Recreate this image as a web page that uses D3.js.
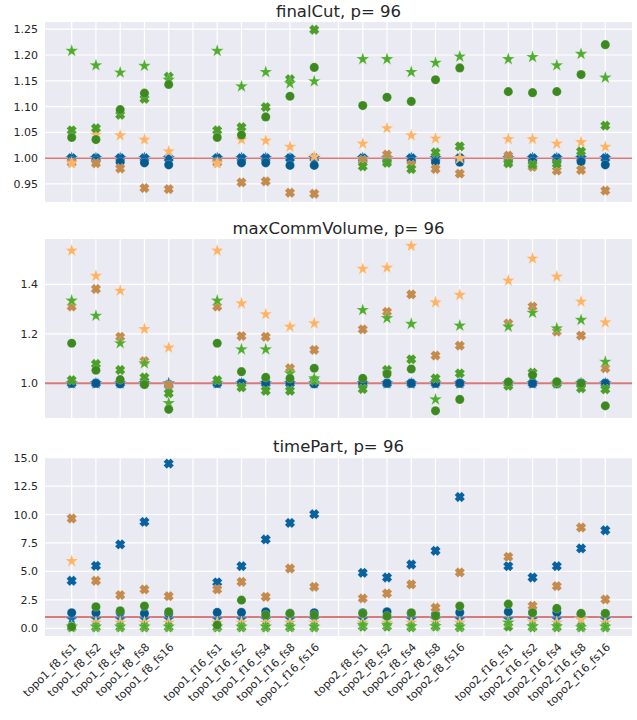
<!DOCTYPE html>
<html>
<head>
<meta charset="utf-8">
<script src="https://cdn.jsdelivr.net/npm/d3@7"></script>
<style>
  body { margin: 0; background: #fff; }
  text { font-family: "DejaVu Sans", sans-serif; fill: #262626; }
</style>
</head>
<body>
<script>
// x categories, "" marks the empty gap slots between groups
const categories = [
  "topo1_f8_fs1", "topo1_f8_fs2", "topo1_f8_fs4", "topo1_f8_fs8", "topo1_f8_fs16", "",
  "topo1_f16_fs1", "topo1_f16_fs2", "topo1_f16_fs4", "topo1_f16_fs8", "topo1_f16_fs16", "",
  "topo2_f8_fs1", "topo2_f8_fs2", "topo2_f8_fs4", "topo2_f8_fs8", "topo2_f8_fs16", "",
  "topo2_f16_fs1", "topo2_f16_fs2", "topo2_f16_fs4", "topo2_f16_fs8", "topo2_f16_fs16"
];

// finalCut values (20 real categories each)
const cutBlueStar   = [1,1,1,1,1, 1,1,1,1,1, 1,1,1,1,1, 1,1,1,1,1];
const cutBlueX      = [1,1,1,1,1, 1,1,1,1,1, 1,1,1,1,1, 1,1,1,1,1];
const cutBlueCircle = [0.994,0.995,0.992,0.991,0.987, 0.993,0.991,0.991,0.986,0.986, 0.993,0.993,0.993,0.992,0.992, 0.993,0.993,0.993,0.993,0.987];
const cutBrownX     = [0.991,0.990,0.980,0.942,0.940, 0.991,0.953,0.955,0.933,0.931, 0.996,1.007,0.987,0.979,0.970, 1.005,0.983,0.976,0.977,0.937];
const cutOrangeStar = [0.990,1.045,1.044,1.036,1.013, 0.990,1.036,1.034,1.022,1.003, 1.028,1.058,1.044,1.038,1.000, 1.037,1.037,1.028,1.031,1.022];
const cutGreenX     = [1.054,1.058,1.084,1.115,1.158, 1.054,1.060,1.099,1.153,1.249, 0.984,0.991,0.979,1.011,1.023, 0.990,0.987,0.989,1.013,1.063];
const cutGreenStar  = [1.208,1.180,1.166,1.179,1.152, 1.208,1.139,1.167,1.145,1.149, 1.192,1.192,1.167,1.185,1.197, 1.192,1.196,1.180,1.202,1.156];
const cutGreenCircle= [1.040,1.036,1.094,1.126,1.143, 1.040,1.045,1.080,1.120,1.176, 1.102,1.118,1.110,1.152,1.175, 1.129,1.127,1.129,1.162,1.220];

// maxCommVolume values
const volBlueStar   = [1,1,1,1,1, 1,1,1,1,1, 1,1,1,1,1, 1,1,1,1,1];
const volBlueX      = [1,1,1,1,0.995, 1,1,1,1,1, 1,1,1,1,1, 1,1,1,1,1];
const volBlueCircle = [1.0,1.0,0.998,1.0,0.99, 1.0,1.0,1.0,1.0,0.998, 1.0,1.0,1.0,1.0,1.0, 1.0,1.0,0.998,0.995,1.0];
const volBrownX     = [1.310,1.381,1.188,1.090,0.993, 1.310,1.191,1.188,1.061,1.135, 1.218,1.289,1.359,1.112,1.152, 1.242,1.310,1.209,1.193,1.061];
const volOrangeStar = [1.536,1.434,1.374,1.219,1.144, 1.536,1.323,1.279,1.229,1.242, 1.462,1.467,1.555,1.327,1.357, 1.415,1.504,1.431,1.330,1.246];
const volGreenX     = [1.013,1.078,1.054,1.024,0.960, 1.013,0.984,0.970,0.970,1.012, 0.977,1.054,1.097,1.020,1.040, 0.990,1.043,1.000,0.980,0.976];
const volGreenStar  = [1.334,1.273,1.162,1.081,0.920, 1.334,1.137,1.137,1.040,1.020, 1.296,1.263,1.240,0.935,1.233, 1.229,1.285,1.222,1.256,1.087];
const volGreenCircle= [1.162,1.053,1.015,0.995,0.895, 1.162,1.047,1.024,1.020,1.061, 1.020,1.038,1.058,0.889,0.935, 1.005,1.034,1.006,1.000,0.909];

// timePart values
const timeBlueStar   = [0.8,0.8,0.8,0.8,0.8, 0.8,0.8,0.8,0.8,0.8, 0.8,0.8,0.8,0.8,0.8, 0.8,0.8,0.8,0.8,0.8];
const timeBlueX      = [4.18,5.49,7.37,9.35,14.47, 4.04,5.46,7.81,9.26,10.03, 4.88,4.47,5.61,6.81,11.54, 5.46,4.47,5.46,7.02,8.62];
const timeBlueCircle = [1.37,1.37,1.40,1.31,1.31, 1.40,1.40,1.46,1.31,1.37, 1.37,1.46,1.30,1.23,1.40, 1.46,1.40,1.40,1.25,1.30];
const timeBrownX     = [9.65,4.18,2.92,3.42,2.83, 3.42,4.09,2.77,5.26,3.65, 2.63,3.07,3.86,1.81,4.91, 6.28,1.98,3.71,8.86,2.54];
const timeOrangeStar = [5.9,0.5,0.5,0.5,0.5, 0.5,0.5,0.5,0.5,0.5, 0.5,0.5,0.5,0.5,0.5, 0.5,0.6,0.5,0.8,0.5];
const timeGreenX     = [0.1,0.1,0.1,0.1,0.1, 0.1,0.1,0.1,0.1,0.1, 0.15,0.15,0.1,0.15,0.1, 0.15,0.1,0.1,0.1,0.1];
const timeGreenStar  = [0.15,0.15,0.15,0.15,0.15, 0.15,0.15,0.15,0.15,0.15, 0.3,0.3,0.2,0.2,0.15, 0.5,0.2,0.2,0.1,0.15];
const timeGreenCircle= [0.14,1.90,1.54,1.96,1.46, 0.29,2.48,1.17,1.31,1.17, 1.31,1.08,1.37,1.10,1.96, 2.13,1.37,1.75,1.31,1.31];

// series styles, in draw order
const seriesStyle = [
  { key: "blueStar",    shape: "star",   color: "#1470b0" },
  { key: "blueX",       shape: "x",      color: "#07629f" },
  { key: "blueCircle",  shape: "circle", color: "#045a8d" },
  { key: "brownX",      shape: "x",      color: "#c48b4d" },
  { key: "orangeStar",  shape: "star",   color: "#ffb363" },
  { key: "greenX",      shape: "x",      color: "#4b9f29" },
  { key: "greenStar",   shape: "star",   color: "#4fae2c" },
  { key: "greenCircle", shape: "circle", color: "#3c8a1f" }
];

const panels = [
  { title: "finalCut, p= 96", top: 22, bottom: 202, domain: [0.915, 1.264],
    ticks: [0.95, 1.0, 1.05, 1.1, 1.15, 1.2, 1.25], fmt: ".2f", refWidth: 1, refColor: "#d03434",
    data: { blueStar: cutBlueStar, blueX: cutBlueX, blueCircle: cutBlueCircle, brownX: cutBrownX,
            orangeStar: cutOrangeStar, greenX: cutGreenX, greenStar: cutGreenStar, greenCircle: cutGreenCircle } },
  { title: "maxCommVolume, p= 96", top: 239, bottom: 418, domain: [0.860, 1.583],
    ticks: [1.0, 1.2, 1.4], fmt: ".1f", refWidth: 2, refColor: "#d97a7a",
    data: { blueStar: volBlueStar, blueX: volBlueX, blueCircle: volBlueCircle, brownX: volBrownX,
            orangeStar: volOrangeStar, greenX: volGreenX, greenStar: volGreenStar, greenCircle: volGreenCircle } },
  { title: "timePart, p= 96", top: 457, bottom: 636, domain: [-0.67, 15.05],
    ticks: [0, 2.5, 5, 7.5, 10, 12.5, 15], fmt: ".1f", refWidth: 2, refColor: "#d97a7a",
    data: { blueStar: timeBlueStar, blueX: timeBlueX, blueCircle: timeBlueCircle, brownX: timeBrownX,
            orangeStar: timeOrangeStar, greenX: timeGreenX, greenStar: timeGreenStar, greenCircle: timeGreenCircle } }
];

const width = 637, height = 720;
const left = 45, right = 632;

// indices of the real categories (skip gap slots)
const realIdx = categories.map((c, i) => c ? i : -1).filter(i => i >= 0);

const x = d3.scalePoint()
  .domain(d3.range(categories.length))
  .range([left, right])
  .padding(1.1);

// chunky filled "X" like matplotlib's marker
function xPath(L, w) {
  const pts = [[-w,-L],[w,-L],[w,-w],[L,-w],[L,w],[w,w],[w,L],[-w,L],[-w,w],[-L,w],[-L,-w],[-w,-w]];
  return "M" + pts.map(p => p.join(",")).join("L") + "Z";
}

const symbols = {
  circle: d3.symbol().type(d3.symbolCircle).size(66)(),
  star: d3.symbol().type(d3.symbolStar).size(52)(),
  x: xPath(5.0, 2.3)
};

const svg = d3.select("body").append("svg")
  .attr("width", width)
  .attr("height", height);

panels.forEach((p, pi) => {
  const y = d3.scaleLinear().domain(p.domain).range([p.bottom, p.top]);
  const g = svg.append("g");

  // plot background
  g.append("rect")
    .attr("x", left).attr("y", p.top)
    .attr("width", right - left).attr("height", p.bottom - p.top)
    .attr("fill", "#eaeaf2");

  // gridlines
  g.selectAll(".hgrid").data(p.ticks).join("line")
    .attr("x1", left).attr("x2", right)
    .attr("y1", d => y(d)).attr("y2", d => y(d))
    .attr("stroke", "#fff").attr("stroke-width", 1.2);
  g.selectAll(".vgrid").data(d3.range(categories.length)).join("line")
    .attr("x1", d => x(d)).attr("x2", d => x(d))
    .attr("y1", p.top).attr("y2", p.bottom)
    .attr("stroke", "#fff").attr("stroke-width", 1.2);

  // y axis
  const yAxis = g.append("g")
    .attr("transform", `translate(${left},0)`)
    .call(d3.axisLeft(y).tickValues(p.ticks).tickFormat(d3.format(p.fmt)).tickSize(0).tickPadding(7));
  yAxis.select(".domain").remove();
  yAxis.selectAll("text").style("font-size", "11px").attr("fill", "#262626");

  // reference line at 1
  g.append("line")
    .attr("x1", left).attr("x2", right)
    .attr("y1", y(1)).attr("y2", y(1))
    .attr("stroke", p.refColor).attr("stroke-width", p.refWidth);

  // markers
  seriesStyle.forEach(s => {
    const vals = p.data[s.key];
    g.append("g").selectAll("path")
      .data(vals.map((v, i) => ({ v, i: realIdx[i] })))
      .join("path")
      .attr("d", symbols[s.shape])
      .attr("transform", d => `translate(${x(d.i)},${y(d.v)})` + (s.shape === "x" ? " rotate(45)" : ""))
      .attr("fill", s.color)
      .attr("stroke", "#fff")
      .attr("stroke-opacity", 0.5)
      .attr("stroke-width", 0.4);
  });

  // title
  svg.append("text")
    .attr("x", (left + right) / 2)
    .attr("y", p.top - 5)
    .attr("text-anchor", "middle")
    .style("font-size", "16.5px")
    .text(p.title);

  // x labels only under the last panel
  if (pi === panels.length - 1) {
    svg.append("g").selectAll("text")
      .data(realIdx)
      .join("text")
      .attr("transform", d => `translate(${x(d) + 3},${p.bottom + 9}) rotate(-45)`)
      .attr("text-anchor", "end")
      .attr("dy", "0.35em")
      .style("font-size", "11px")
      .text(d => categories[d]);
  }
});
</script>
</body>
</html>
